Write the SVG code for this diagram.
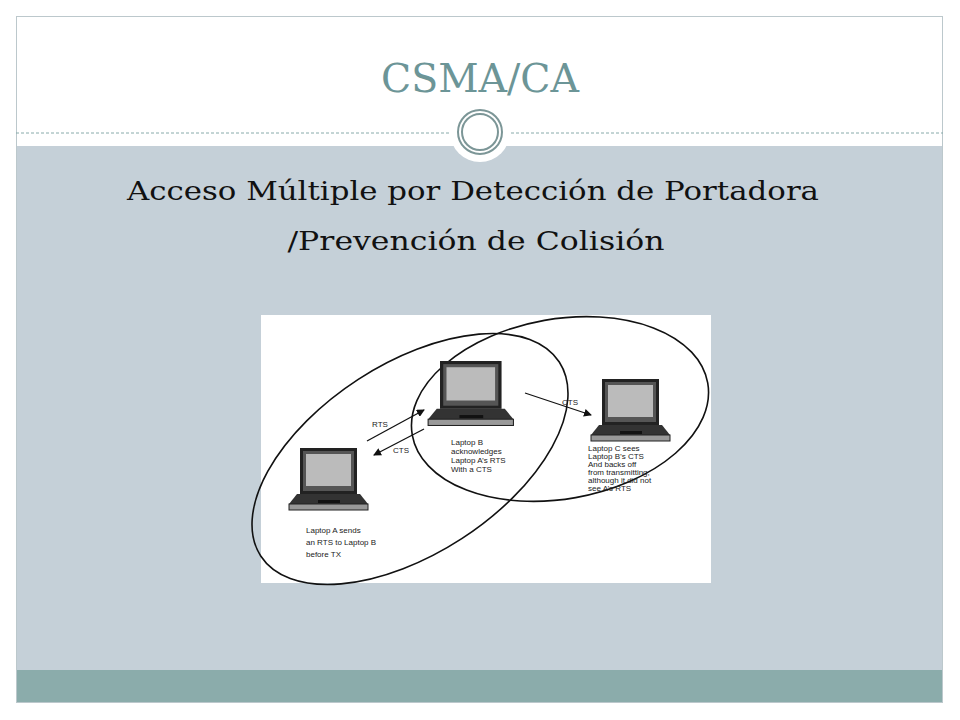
<svg xmlns="http://www.w3.org/2000/svg" xmlns:xlink="http://www.w3.org/1999/xlink" width="960" height="720" viewBox="0 0 960 720">
<style>
.lbl{font-family:"Liberation Sans",Arial,sans-serif;font-size:8px;fill:#222}
.arr{stroke:#111;stroke-width:1.3;fill:none;marker-end:url(#ah)}
.ell{fill:none;stroke:#111;stroke-width:1.6}
</style>
<defs>
<marker id="ah" markerWidth="8" markerHeight="8" refX="7" refY="4" orient="auto" markerUnits="userSpaceOnUse"><path d="M0,0 L8,4 L0,8 z" fill="#111"/></marker>
<g id="laptop">
<rect x="0" y="0" width="57" height="46" fill="#222"/>
<rect x="3" y="3" width="51" height="40" fill="#555"/>
<rect x="6" y="6" width="45" height="32" fill="#bbb"/>
<path d="M-3,46 L60,46 L68,56 L-11,56 z" fill="#333"/>
<rect x="-11" y="56" width="79" height="6" fill="#999" stroke="#222" stroke-width="1"/>
<rect x="18" y="52" width="22" height="3" fill="#111"/>
</g>
</defs>
<rect x="0" y="0" width="960" height="720" fill="#fff"/>
<rect x="16" y="146" width="927" height="524" fill="#c5d0d8"/>
<rect x="16" y="670" width="927" height="33" fill="#8bacab"/>
<rect x="16.5" y="16.5" width="926" height="686" fill="none" stroke="#bcc8cc"/>
<line x1="16" y1="133" x2="943" y2="133" stroke="#8aa" stroke-dasharray="3,2"/>
<g id="emblem">
<circle cx="480" cy="132" r="30" fill="#fff"/>
<circle cx="480" cy="132" r="22" fill="none" stroke="#7c9697" stroke-width="2"/>
<circle cx="480" cy="132" r="18" fill="none" stroke="#7c9697" stroke-width="2"/>
</g>
<text x="480" y="92" text-anchor="middle" font-family="'DejaVu Serif','Liberation Serif',serif" font-size="40" fill="#6c9597" textLength="198" lengthAdjust="spacingAndGlyphs">CSMA/CA</text>
<text x="473" y="200" text-anchor="middle" font-family="'DejaVu Serif','Liberation Serif',serif" font-size="26" fill="#111" textLength="692" lengthAdjust="spacingAndGlyphs">Acceso Múltiple por Detección de Portadora</text>
<text x="476" y="250" text-anchor="middle" font-family="'DejaVu Serif','Liberation Serif',serif" font-size="26" fill="#111" textLength="377" lengthAdjust="spacingAndGlyphs">/Prevención de Colisión</text>
<rect x="261" y="315" width="450" height="268" fill="#fff"/>
<g id="connectors">
<ellipse class="ell" cx="410" cy="459" rx="178" ry="95" transform="rotate(-33 410 459)"/>
<ellipse class="ell" cx="560" cy="409" rx="150" ry="90" transform="rotate(-10 560 409)"/>
<line class="arr" x1="367" y1="441" x2="424" y2="410"/>
<line class="arr" x1="424" y1="429" x2="374" y2="455"/>
<line class="arr" x1="525" y1="393" x2="591" y2="415"/>
<text class="lbl" x="372" y="427" font-size="9">RTS</text>
<text class="lbl" x="393" y="453" font-size="9">CTS</text>
<text class="lbl" x="562" y="405" font-size="9">CTS</text>
</g>
<g id="laptopA">
<use xlink:href="#laptop" x="300" y="448"/>
<text class="lbl" x="306" y="533">Laptop A sends</text>
<text class="lbl" x="306" y="545">an RTS to Laptop B</text>
<text class="lbl" x="306" y="557">before TX</text>
</g>
<g id="laptopB">
<use xlink:href="#laptop" transform="translate(440 361) scale(1.08 1.04)"/>
<text class="lbl" x="451" y="445" font-size="7">Laptop B</text>
<text class="lbl" x="451" y="454" font-size="7">acknowledges</text>
<text class="lbl" x="451" y="463" font-size="7">Laptop A’s RTS</text>
<text class="lbl" x="451" y="472" font-size="7">With a CTS</text>
</g>
<g id="laptopC">
<use xlink:href="#laptop" x="602" y="379"/>
<text class="lbl" x="588" y="451" font-size="6.5">Laptop C sees</text>
<text class="lbl" x="588" y="459" font-size="6.5">Laptop B’s CTS</text>
<text class="lbl" x="588" y="467" font-size="6.5">And backs off</text>
<text class="lbl" x="588" y="475" font-size="6.5">from transmitting,</text>
<text class="lbl" x="588" y="483" font-size="6.5">although it did not</text>
<text class="lbl" x="588" y="491" font-size="6.5">see A’s RTS</text>
</g>
</svg>
